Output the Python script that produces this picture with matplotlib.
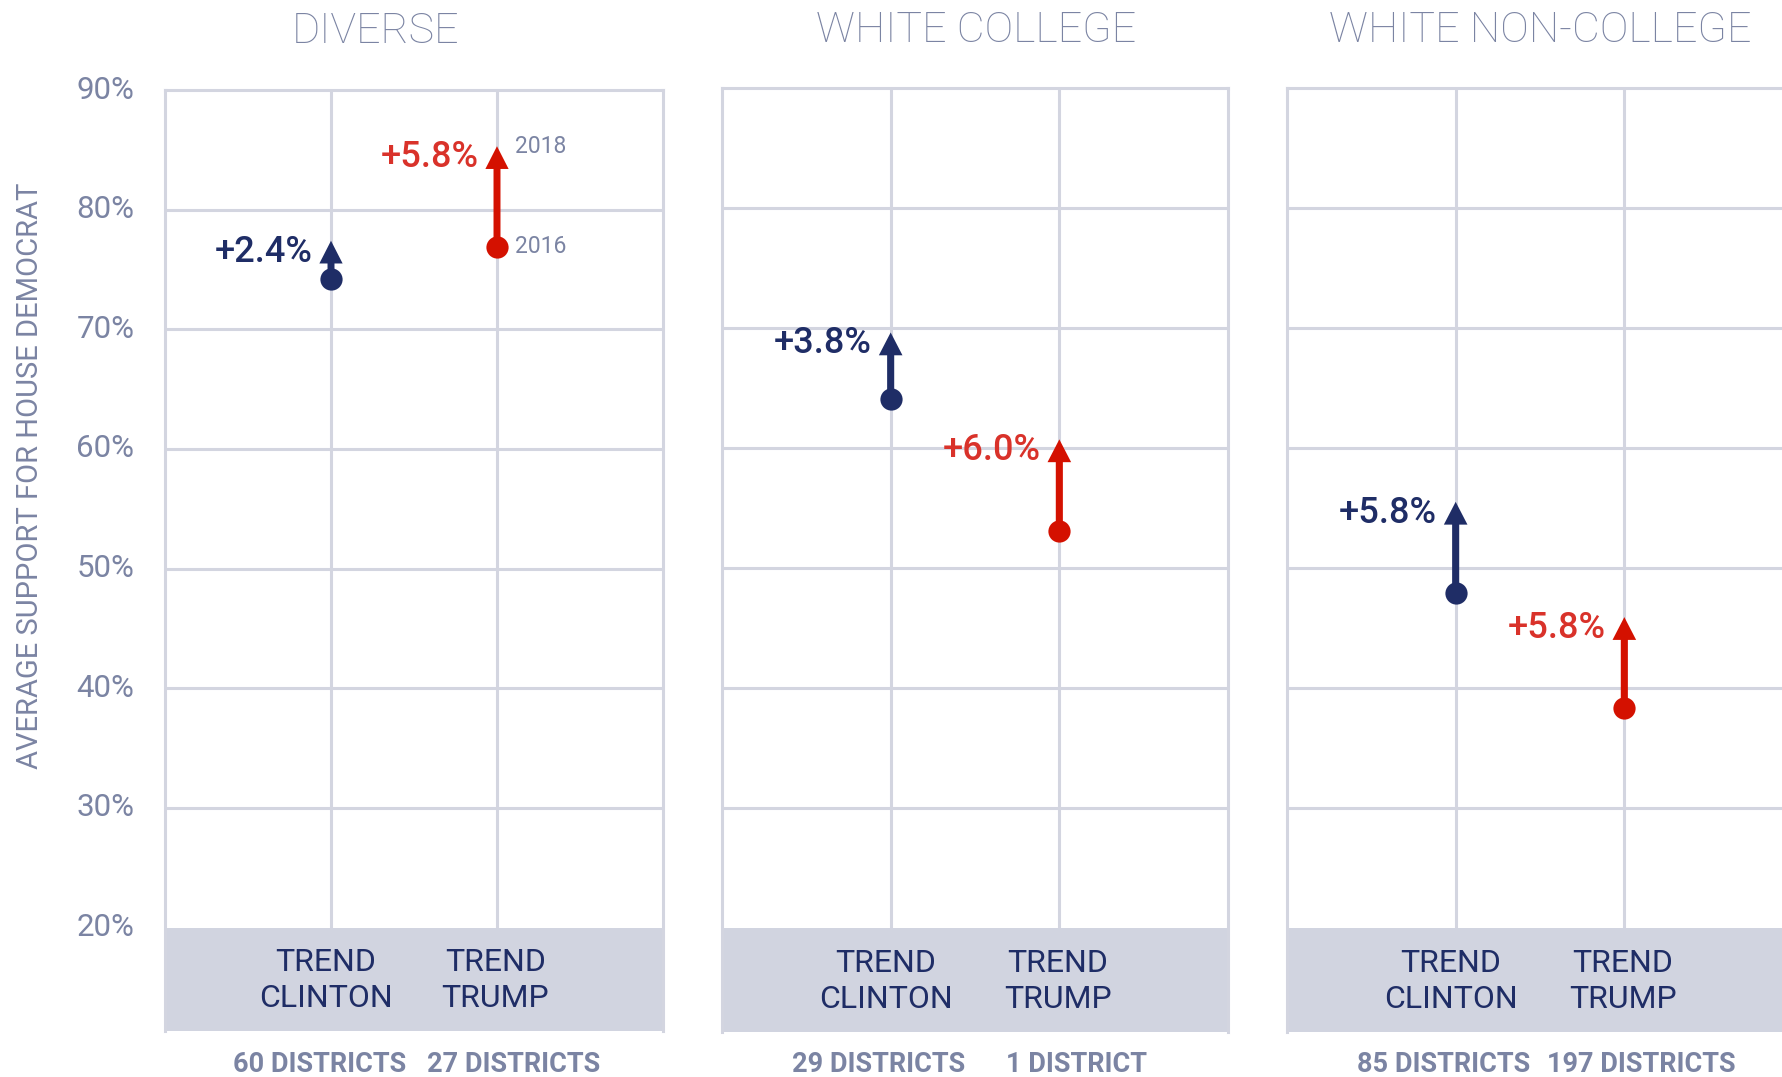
import matplotlib
matplotlib.use("Agg")
import matplotlib.pyplot as plt
from matplotlib.transforms import blended_transform_factory

plt.rcParams['font.family'] = ['Roboto', 'DejaVu Sans']

# ---------------- data ----------------
groups = ["DIVERSE", "WHITE COLLEGE", "WHITE NON-COLLEGE"]
categories = ["TREND\nCLINTON", "TREND\nTRUMP"]
clinton_2016 = [74.2, 64.1, 47.9]
clinton_2018 = [75.5, 67.7, 53.6]
trump_2016 = [76.9, 53.1, 38.3]
trump_2018 = [83.4, 58.8, 44.0]
clinton_change = ["+2.4%", "+3.8%", "+5.8%"]
trump_change = ["+5.8%", "+6.0%", "+5.8%"]
clinton_districts = ["60 DISTRICTS", "29 DISTRICTS", "85 DISTRICTS"]
trump_districts = ["27 DISTRICTS", "1 DISTRICT", "197 DISTRICTS"]
y_ticks = [20, 30, 40, 50, 60, 70, 80, 90]
y_label = "AVERAGE SUPPORT FOR HOUSE DEMOCRAT"

# ---------------- style ----------------
NAVY = "#1f2d66"
RED = "#d41100"
RED_TXT = "#d9322a"
SLATE = "#7b84a3"
GRID = "#d3d5e0"
BAND = "#d1d4e0"

W, H = 1783, 1077
fig = plt.figure(figsize=(W / 100, H / 100), dpi=100)

# panel geometry in pixels: left, right, top(90%), band bottom
panels_px = [(165, 663, 90, 1031), (722, 1228, 87.5, 1032), (1287, 1793, 87.5, 1032)]
title_x_px = [376, 976, 1540]
cat_x = [0.97, 1.99]
dist_x = [0.93, 2.10]
YLOW = 11.35
HEAD = 1.9

for i, (l, r, t, b) in enumerate(panels_px):
    ax = fig.add_axes([l / W, 1 - b / H, (r - l) / W, (b - t) / H])
    ax.set_xlim(0, 3)
    ax.set_ylim(YLOW, 90)
    for s in ax.spines.values():
        s.set_color(GRID)
        s.set_linewidth(2.2)
    ax.spines['bottom'].set_visible(False)
    for v in y_ticks[1:-1]:
        ax.axhline(v, color=GRID, lw=2.2, zorder=1)
    for xv in (1, 2):
        ax.axvline(xv, color=GRID, lw=2.2, zorder=1)
    ax.axhspan(YLOW, 20, color=BAND, zorder=2, lw=0)

    ax.set_xticks([])
    ax.set_yticks(y_ticks)
    if i == 0:
        ax.set_yticklabels([f"{v}%" for v in y_ticks], fontsize=22.5, color=SLATE,
                           va='center')
        ax.tick_params(axis='y', length=0, pad=22)
    else:
        ax.set_yticklabels([])
        ax.tick_params(axis='y', length=0)

    series = [
        (1, clinton_2016[i], clinton_2018[i], clinton_change[i], NAVY, NAVY, clinton_districts[i]),
        (2, trump_2016[i], trump_2018[i], trump_change[i], RED, RED_TXT, trump_districts[i]),
    ]
    for j, (xv, s16, s18, lab, col, tcol, dist) in enumerate(series):
        ax.arrow(xv, s16, 0, (s18 - s16) + HEAD, width=0.042, head_width=0.14,
                 head_length=HEAD, length_includes_head=True, color=col, lw=0,
                 zorder=3)
        ax.plot([xv], [s16], 'o', ms=16, color=col, zorder=4, mec='none')
        ax.text(xv - 0.11, s18 + HEAD / 2, lab, ha='right', va='center',
                fontsize=26, fontweight='medium', color=tcol, zorder=5)
        ax.text(cat_x[j], 15.57, categories[j], ha='center', va='center',
                fontsize=23, color=NAVY, linespacing=1.32, zorder=5)
        trans = blended_transform_factory(ax.transData, fig.transFigure)
        ax.text(dist_x[j], 1 - 1064 / H, dist, transform=trans, ha='center',
                va='center', fontsize=19.5, fontweight='bold', color=SLATE,
                clip_on=False)
        if i == 0 and j == 1:
            ax.text(xv + 0.11, s18 + HEAD, "2018", ha='left', va='center',
                    fontsize=16.5, color=SLATE)
            ax.text(xv + 0.11, s16, "2016", ha='left', va='center',
                    fontsize=16.5, color=SLATE)

    fig.text(title_x_px[i] / W, 1 - 31 / H, groups[i], ha='center', va='center',
             fontsize=31, fontweight='light', color=SLATE)

fig.text(30 / W, 1 - 476 / H, y_label, rotation=90, ha='center', va='center',
         fontsize=21, color=SLATE)

fig.savefig("out.png", dpi=100, facecolor='white')
